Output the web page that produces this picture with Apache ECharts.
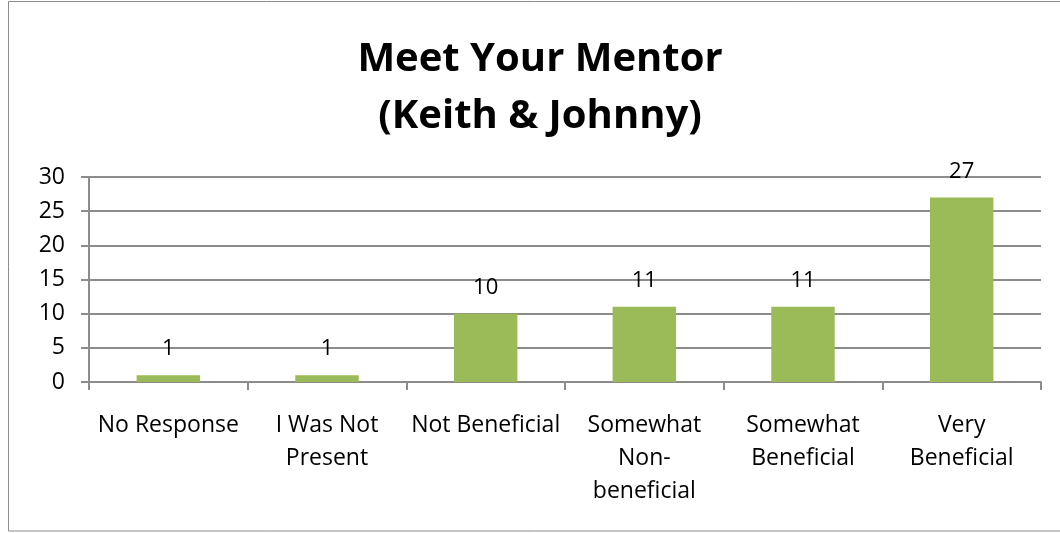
<!DOCTYPE html>
<html>
<head>
<meta charset="utf-8">
<script src="https://cdn.jsdelivr.net/npm/echarts@6/dist/echarts.min.js"></script>
<style>
  html, body { margin: 0; padding: 0; background: #fff; }
  #chart { width: 1060px; height: 533px; }
</style>
</head>
<body>
<div id="chart"></div>
<script>
const categories = ['No Response', 'I Was Not\nPresent', 'Not Beneficial', 'Somewhat\nNon-\nbeneficial', 'Somewhat\nBeneficial', 'Very\nBeneficial']
const responses = [1, 1, 10, 11, 11, 27]
const yTicks = { min: 0, max: 30, interval: 5 }

const font = '"Open Sans", "Liberation Sans", sans-serif'
const chart = echarts.init(document.getElementById('chart'))

chart.setOption({
  animation: false,
  title: {
    text: 'Meet Your Mentor\n(Keith & Johnny)',
    left: 535,
    top: 26,
    textAlign: 'center',
    textStyle: { fontFamily: font, fontSize: 40, fontWeight: 'bold', color: '#000', lineHeight: 57 }
  },
  graphic: [{
    type: 'rect',
    silent: true,
    shape: { x: 8.5, y: 1.5, width: 1100, height: 529.5 },
    style: { fill: 'none', stroke: '#8c8c8c', lineWidth: 1 }
  }],
  grid: { left: 89, right: 19, top: 177, bottom: 151 },
  xAxis: {
    type: 'category',
    data: categories,
    axisLine: { lineStyle: { color: '#8c8c8c', width: 2 } },
    axisTick: { show: true, length: 8, lineStyle: { color: '#8c8c8c', width: 2 } },
    axisLabel: { fontFamily: font, fontSize: 23, color: '#000', lineHeight: 33, margin: 27, interval: 0 }
  },
  yAxis: {
    type: 'value',
    min: yTicks.min,
    max: yTicks.max,
    interval: yTicks.interval,
    axisLine: { show: true, lineStyle: { color: '#8c8c8c', width: 2 } },
    axisTick: { show: true, length: 8, lineStyle: { color: '#8c8c8c', width: 2 } },
    splitLine: { lineStyle: { color: '#8c8c8c', width: 2 } },
    axisLabel: { fontFamily: font, fontSize: 23, color: '#000', margin: 24 }
  },
  series: [{
    type: 'bar',
    data: responses,
    barWidth: '40%',
    itemStyle: { color: '#9BBB59' },
    label: {
      show: true,
      position: 'top',
      distance: 15,
      fontFamily: font,
      fontSize: 22,
      color: '#000'
    }
  }]
})
</script>
</body>
</html>
